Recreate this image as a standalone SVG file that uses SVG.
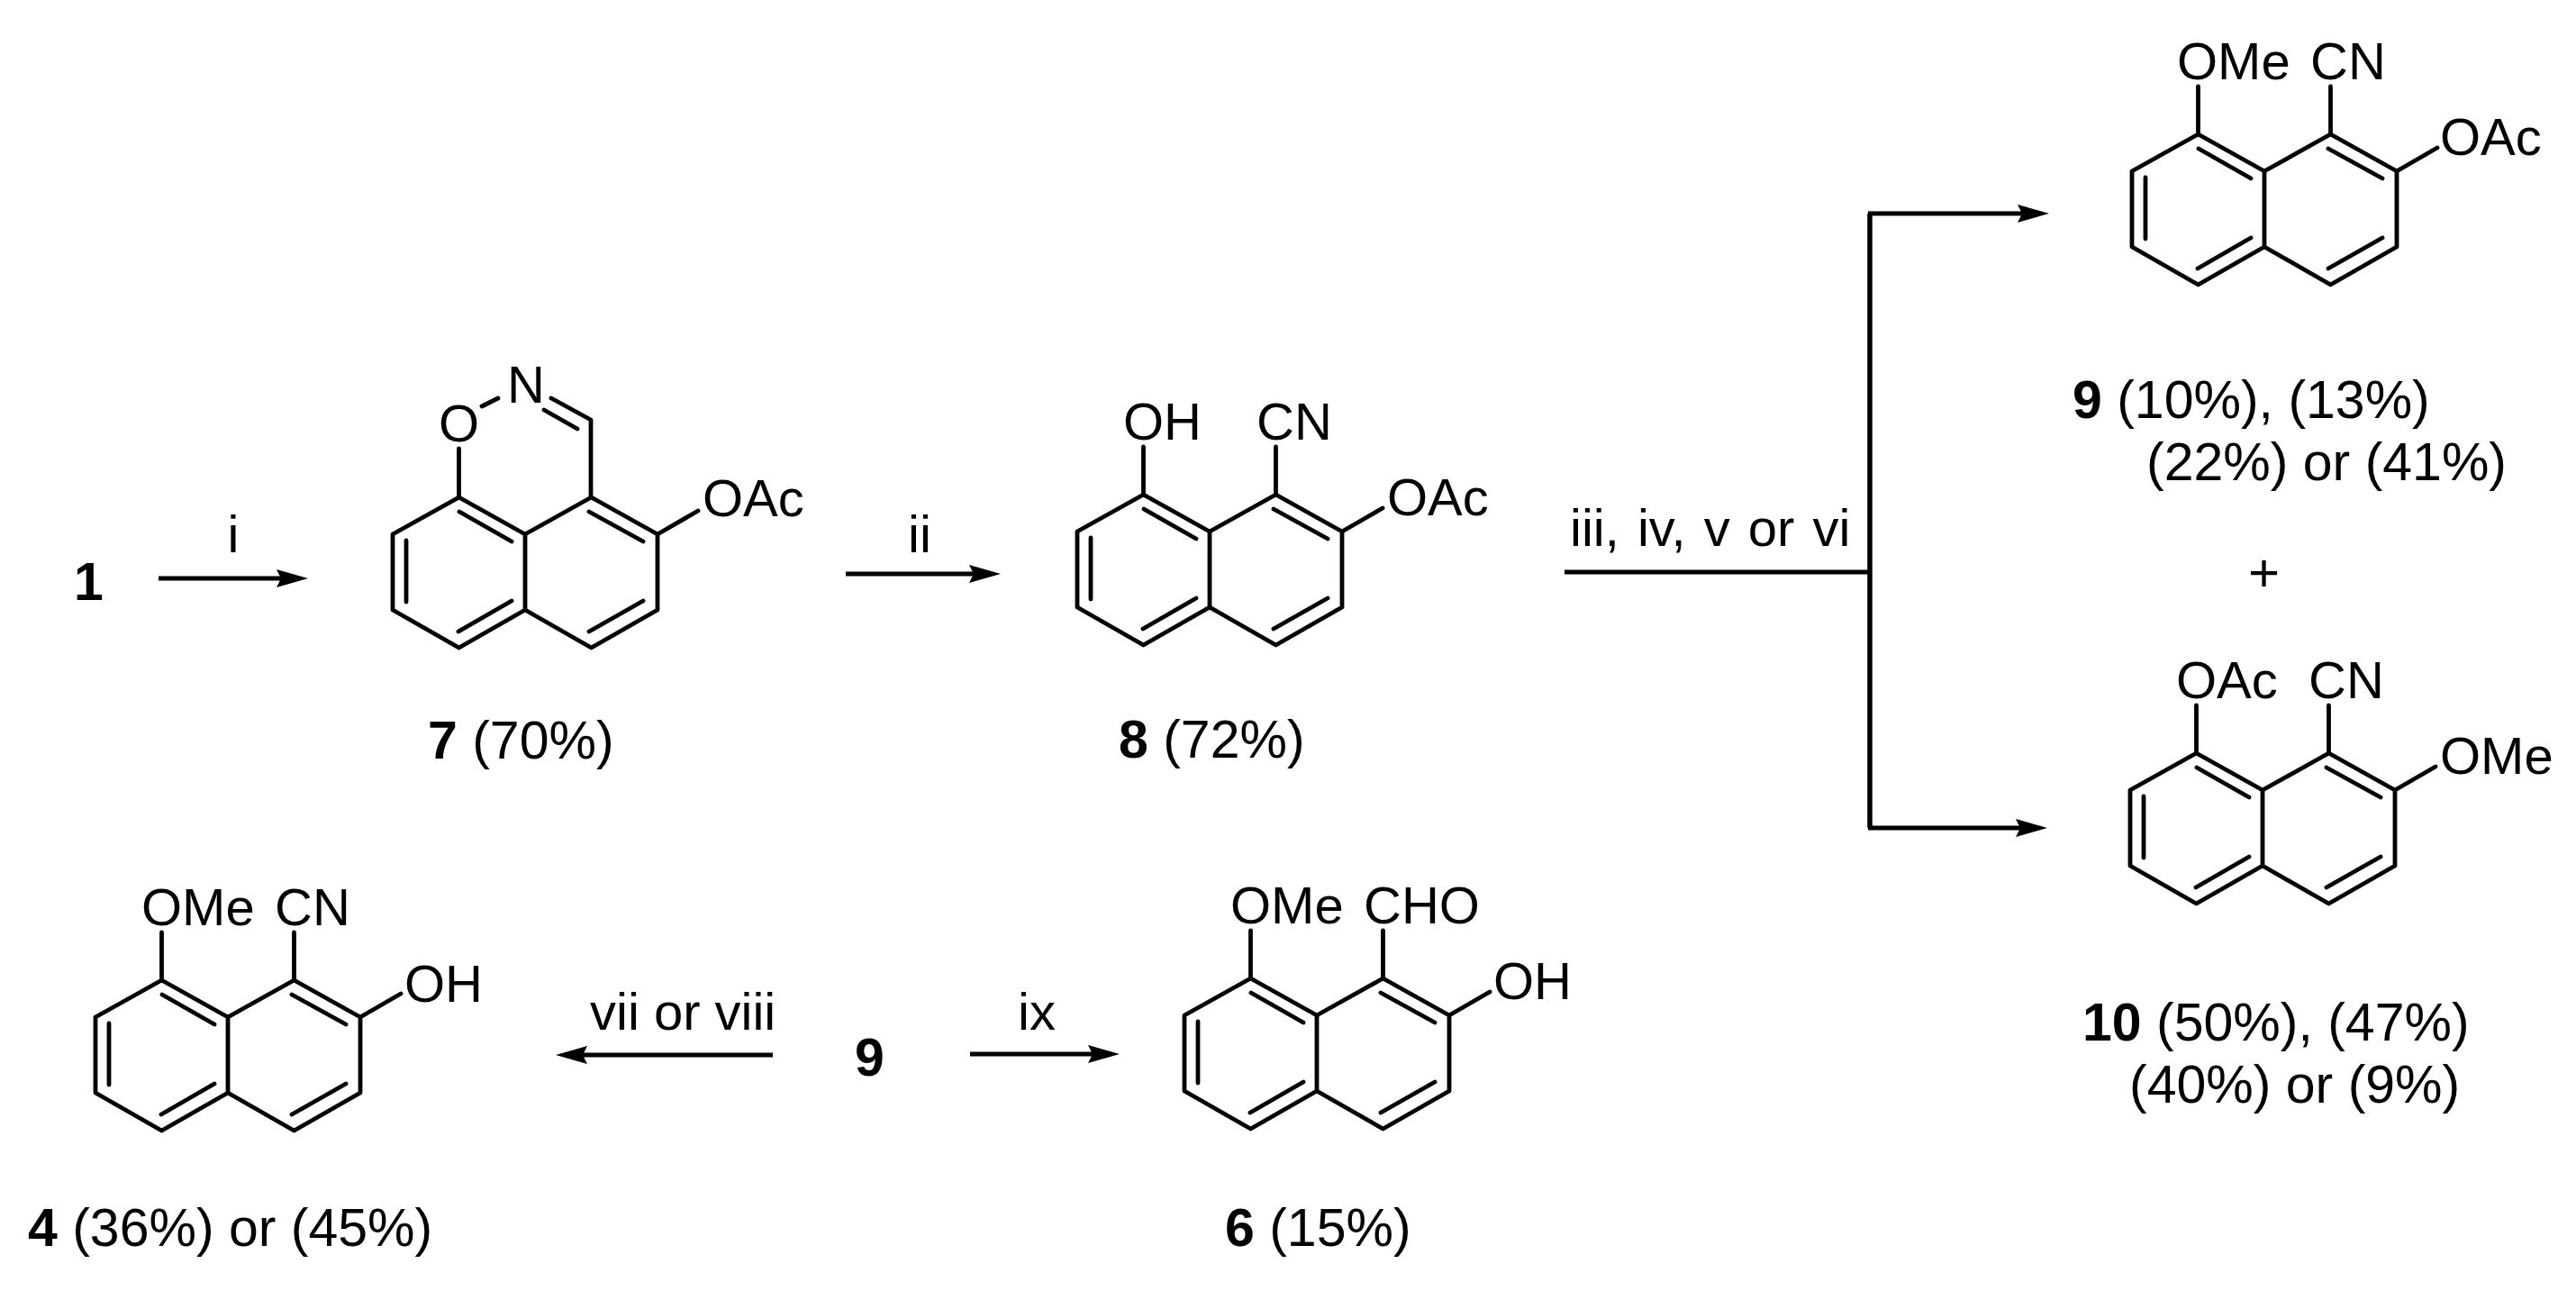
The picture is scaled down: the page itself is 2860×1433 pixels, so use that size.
<svg xmlns="http://www.w3.org/2000/svg" width="2860" height="1433" viewBox="0 0 2860 1433">
<style>
.b{fill:none;stroke:#000;stroke-width:4.8;stroke-linecap:round;stroke-linejoin:round}
.c{fill:none;stroke:#000;stroke-width:4.8}
text{font-family:"Liberation Sans",Arial,sans-serif;fill:#000}
.a{font-size:58px}
.l{font-size:59px}
.r{font-size:58px}
.n{font-weight:bold}
</style>
<defs>
<marker id="h" markerUnits="userSpaceOnUse" markerWidth="40" markerHeight="24" refX="20" refY="12" orient="auto"><path d="M0 2L35 12L0 22L5 12Z" fill="#000"/></marker>
<g id="naph" class="b">
<path d="M73.5 0L147 41V125L73.500 167L0 125V41Z"/>
<path d="M147 41L220.5 0L294 41V125L220.5 167L147 125"/>
<path d="M74 16L132 49M15 48V116M132 115L73 149M218 16L278 49M278 115L218 149"/>
</g>
<g id="sub" class="b"><path d="M73.5 0V-53M220.5 0V-53M294 41L339 15"/></g>
</defs>
<rect width="2860" height="1433" fill="#fff"/>
<g id="connectors">
<path class="c" d="M176 642H327" marker-end="url(#h)"/>
<path class="c" d="M939 637H1096" marker-end="url(#h)"/>
<path class="c" d="M1737 635H2076"/>
<path class="c" d="M2076 237V919" style="stroke-width:5.500"/>
<path class="c" d="M2074 237H2260" marker-end="url(#h)"/>
<path class="c" d="M2074 919H2258" marker-end="url(#h)"/>
<path class="c" d="M858 1171H632" marker-end="url(#h)"/>
<path class="c" d="M1077 1170H1228" marker-end="url(#h)"/>
</g>
<g id="reagents">
<text class="r" x="252.500" y="613">i</text>
<text class="r" x="1008" y="613">ii</text>
<text class="r" x="1743" y="606" style="word-spacing:4px">iii, iv, v or vi</text>
<text class="r" x="655" y="1143">vii or viii</text>
<text class="r" x="1130" y="1143">ix</text>
<text class="r" x="2496" y="656" style="font-size:60px">+</text>
</g>
<g id="node-1"><text class="l n" x="82" y="666">1</text></g>
<g id="node-9-start"><text class="l n" x="949" y="1194">9</text></g>
<g id="node-7">
<use href="#naph" x="436" y="552"/>
<path class="b" d="M509.500 552V498M535 451L553 442M612 442L656 466V552M604 455L641 476M730 593L775 567"/>
<text class="a" x="487" y="490">O</text>
<text class="a" x="563" y="447">N</text>
<text class="a" x="780" y="573">OAc</text>
<text class="l" x="475" y="842"><tspan class="n">7</tspan> (70%)</text>
</g>
<g id="node-8">
<use href="#naph" x="1196" y="549"/>
<use href="#sub" x="1196" y="549"/>
<text class="a" x="1247" y="488">OH</text>
<text class="a" x="1395" y="488">CN</text>
<text class="a" x="1540" y="572">OAc</text>
<text class="l" x="1242" y="841"><tspan class="n">8</tspan> (72%)</text>
</g>
<g id="node-9">
<use href="#naph" x="2367" y="149"/>
<use href="#sub" x="2367" y="149"/>
<text class="a" x="2417" y="88">OMe</text>
<text class="a" x="2565" y="88">CN</text>
<text class="a" x="2709" y="172">OAc</text>
<text class="l" x="2301" y="464"><tspan class="n">9</tspan> (10%), (13%)</text>
<text class="l" x="2383" y="533">(22%) or (41%)</text>
</g>
<g id="node-10">
<use href="#naph" x="2365" y="836"/>
<use href="#sub" x="2365" y="836"/>
<text class="a" x="2416" y="775">OAc</text>
<text class="a" x="2563" y="775">CN</text>
<text class="a" x="2709" y="859">OMe</text>
<text class="l" x="2312" y="1155"><tspan class="n">10</tspan> (50%), (47%)</text>
<text class="l" x="2364" y="1224">(40%) or (9%)</text>
</g>
<g id="node-4">
<use href="#naph" x="106" y="1088"/>
<use href="#sub" x="106" y="1088"/>
<text class="a" x="157" y="1027">OMe</text>
<text class="a" x="305" y="1027">CN</text>
<text class="a" x="449" y="1112">OH</text>
<text class="l" x="31" y="1383"><tspan class="n">4</tspan> (36%) or (45%)</text>
</g>
<g id="node-6">
<use href="#naph" x="1315" y="1086"/>
<use href="#sub" x="1315" y="1086"/>
<text class="a" x="1366" y="1025">OMe</text>
<text class="a" x="1514" y="1025">CHO</text>
<text class="a" x="1658" y="1109">OH</text>
<text class="l" x="1360" y="1383"><tspan class="n">6</tspan> (15%)</text>
</g>
</svg>
